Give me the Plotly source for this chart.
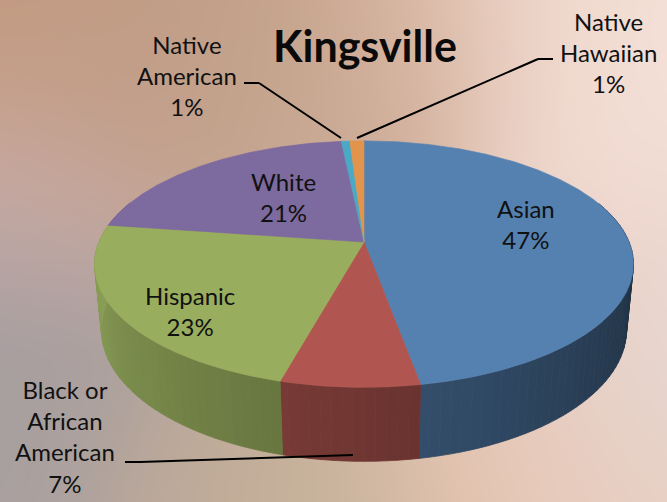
import base64
import struct
import zlib

import numpy as np
import plotly.graph_objects as go

# ---------------- data ----------------
title_text = "Kingsville"
categories = ["Asian", "Black or African American", "Hispanic", "White",
              "Native American", "Native Hawaiian"]
values = [47, 7, 23, 21, 0.6, 1]
label_lines = [["Asian"], ["Black or", "African", "American"], ["Hispanic"],
               ["White"], ["Native", "American"], ["Native", "Hawaiian"]]
top_colors = ["#5581b1", "#b0554f", "#98ae5e", "#7d6a9e", "#4aa9c5", "#e2944c"]

# ---------------- geometry (pixel space) ----------------
W, H = 667, 502
CX, CY = 364, 242
PHI = np.radians(26.74)
S, C = np.sin(PHI), np.cos(PHI)
DIST = 4.98
FOC = 1320
THICK = 0.28


def proj(theta_deg, r, z):
    t = np.radians(np.asarray(theta_deg, dtype=float))
    x = r * np.sin(t)
    y = r * np.cos(t)
    depth = y * C - z * S + DIST
    up = y * S + z * C
    return CX + FOC * x / depth, CY - FOC * up / depth


def hex2rgb(h):
    h = h.lstrip("#")
    return np.array([int(h[i:i + 2], 16) for i in (0, 2, 4)], dtype=float)


def rgb2hex(c):
    c = np.clip(np.round(c), 0, 255).astype(int)
    return "#%02x%02x%02x" % tuple(c)


# ---------------- background (blurred photo look) ----------------
anchors = [
    (40, 40, "#c39a80"), (230, 50, "#c19f87"), (400, 60, "#d5b19c"),
    (540, 40, "#efd6ca"), (650, 60, "#f6e4dc"), (640, 200, "#f2dcd4"),
    (40, 200, "#cfb0ac"), (25, 320, "#a39c9e"), (30, 450, "#a8a0a0"),
    (200, 480, "#c0aa98"), (330, 495, "#c8b49c"), (480, 470, "#e6c4b0"),
    (600, 460, "#e9cfc2"), (655, 350, "#e6dad8"), (560, 300, "#e8cbbd"),
    (120, 110, "#c09d88"), (300, 150, "#c8aa96"),
]
yy, xx = np.mgrid[0:H, 0:W].astype(float)
acc = np.zeros((H, W, 3))
wsum = np.zeros((H, W))
for ax_, ay_, col in anchors:
    w = np.exp(-((xx - ax_) ** 2 + (yy - ay_) ** 2) / (2 * 85.0 ** 2)) + 1e-9
    acc += w[..., None] * hex2rgb(col)
    wsum += w
bg = np.clip(acc / wsum[..., None], 0, 255).astype(np.uint8)


def png_bytes(arr):
    h, w, _ = arr.shape
    raw = b"".join(b"\x00" + arr[r].tobytes() for r in range(h))

    def chunk(tag, data):
        return (struct.pack(">I", len(data)) + tag + data +
                struct.pack(">I", zlib.crc32(tag + data) & 0xFFFFFFFF))

    return (b"\x89PNG\r\n\x1a\n" +
            chunk(b"IHDR", struct.pack(">IIBBBBB", w, h, 8, 2, 0, 0, 0)) +
            chunk(b"IDAT", zlib.compress(raw, 9)) + chunk(b"IEND", b""))


bg_uri = "data:image/png;base64," + base64.b64encode(png_bytes(bg)).decode()

# ---------------- build figure ----------------
fig = go.Figure()
total = float(sum(values))
bounds = np.concatenate([[0], np.cumsum(values) / total * 360.0])


def shade(theta):
    return float(np.clip(0.36 + (theta - 95) * 0.0032, 0.36, 0.9))


# side walls
for i, col in enumerate(top_colors):
    a0, a1 = bounds[i], bounds[i + 1]
    edges = np.arange(a0, a1, 2.0).tolist() + [a1]
    base = hex2rgb(col)
    for t0, t1 in zip(edges[:-1], edges[1:]):
        mid = 0.5 * (t0 + t1)
        if np.cos(np.radians(mid)) > 0.35:
            continue
        ts = np.linspace(t0, t1, 4)
        xt, yt = proj(ts, 1.0, 0.0)
        xb, yb = proj(ts[::-1], 1.0, -THICK)
        c = rgb2hex(base * shade(mid))
        fig.add_trace(go.Scatter(
            x=np.concatenate([xt, xb, xt[:1]]), y=np.concatenate([yt, yb, yt[:1]]),
            mode="lines", fill="toself", fillcolor=c,
            line=dict(color=c, width=0.8), hoverinfo="skip", showlegend=False))

# top faces
for i, col in enumerate(top_colors):
    a0, a1 = bounds[i], bounds[i + 1]
    n = max(3, int((a1 - a0) / 0.5) + 1)
    ts = np.linspace(a0, a1, n)
    xa, ya = proj(ts, 1.0, 0.0)
    x0, y0 = proj(0.0, 0.0, 0.0)
    fig.add_trace(go.Scatter(
        x=np.concatenate([[x0], xa, [x0]]), y=np.concatenate([[y0], ya, [y0]]),
        mode="lines", fill="toself", fillcolor=col,
        line=dict(color=col, width=0.6), name=categories[i],
        hoverinfo="name", showlegend=False))

# labels
pcts = [f"{round(v / total * 100):.0f}%" for v in values]
label_pos = [(526, 224), (65, 436), (190, 311), (283, 197), (187, 75), (608, 52)]
annotations = []
for lines, pct, (lx, ly) in zip(label_lines, pcts, label_pos):
    annotations.append(dict(
        x=lx, y=ly, xref="x", yref="y", text="<br>".join(lines + [pct]),
        showarrow=False, xanchor="center", yanchor="middle", align="center",
        font=dict(family="Lato", size=24, color="#111111")))
annotations.append(dict(
    x=365, y=45, xref="x", yref="y", text=f"<b>{title_text}</b>",
    showarrow=False, xanchor="center", yanchor="middle",
    font=dict(family="Lato", size=43, color="#0a0a0a")))

leaders = [
    [(244, 83), (259, 83), (341, 138)],
    [(553, 59), (538, 59), (357, 138)],
    [(125, 462), (140, 462), (353, 455)],
]
shapes = []
for pts in leaders:
    for (xa_, ya_), (xb_, yb_) in zip(pts[:-1], pts[1:]):
        shapes.append(dict(type="line", xref="x", yref="y", x0=xa_, y0=ya_,
                           x1=xb_, y1=yb_, line=dict(color="#000000", width=2)))

fig.update_layout(
    width=W, height=H, margin=dict(l=0, r=0, t=0, b=0),
    paper_bgcolor="#d8c0b0", plot_bgcolor="rgba(0,0,0,0)",
    xaxis=dict(range=[0, W], visible=False, fixedrange=True),
    yaxis=dict(range=[H, 0], visible=False, fixedrange=True),
    images=[dict(source=bg_uri, xref="paper", yref="paper", x=0, y=1,
                 sizex=1, sizey=1, sizing="stretch", layer="below",
                 xanchor="left", yanchor="top")],
    annotations=annotations, shapes=shapes, showlegend=False,
)

fig.write_html("out.html", config={"displayModeBar": False},
               post_script="document.body.style.margin='0';"
                           "document.body.style.overflow='hidden';")
